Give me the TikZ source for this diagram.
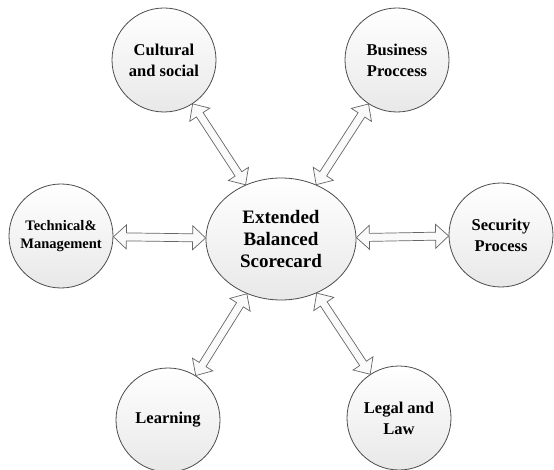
\documentclass[tikz,border=0pt]{standalone}
\usepackage{fontspec}
\setmainfont{Liberation Serif}
\usetikzlibrary{calc,shapes.geometric}
\tikzset{
  hub/.style={ellipse, draw=black!70, line width=0.8pt, top color=white, bottom color=black!9,
    minimum width=150pt, minimum height=122pt, inner sep=0pt, align=center,
    font=\fontsize{19}{22}\selectfont\bfseries},
  spoke/.style={circle, draw=black!70, line width=0.8pt, top color=white, bottom color=black!9,
    minimum size=104pt, inner sep=0pt, align=center,
    font=\fontsize{16.5}{21}\selectfont\bfseries},
  blk/.style={draw=black!60, line width=0.7pt, fill=black!2, line join=miter}
}
\newcommand{\dblblk}[2]{%
  \path (#1) -- (#2) coordinate[pos=0] (ta) coordinate[pos=1] (tb);
  \coordinate (ha) at ($(ta)!13pt!(tb)$);
  \coordinate (hb) at ($(tb)!13pt!(ta)$);
  \draw[blk] (ta) -- ($(ha)!12pt!90:(tb)$) -- ($(ha)!4pt!90:(tb)$) -- ($(hb)!4pt!-90:(ta)$)
    -- ($(hb)!12pt!-90:(ta)$) -- (tb) -- ($(hb)!12pt!90:(ta)$) -- ($(hb)!4pt!90:(ta)$)
    -- ($(ha)!4pt!-90:(tb)$) -- ($(ha)!12pt!-90:(tb)$) -- cycle;
}
\begin{document}
\begin{tikzpicture}[x=1pt,y=-1pt]
\useasboundingbox (0,0) rectangle (554,470);
\node[hub] (E) at (281,239) {Extended\\Balanced\\Scorecard};
\node[spoke] (cult) at (164,60) {Cultural\\and social};
\node[spoke] (bus) at (397,60) {Business\\Proccess};
\node[spoke, font=\fontsize{14.5}{17.5}\selectfont\bfseries] (tech) at (61,236) {Technical\&\\Management};
\node[spoke] (sec) at (501,235) {Security\\Process};
\node[spoke] (learn) at (168,420) {Learning};
\node[spoke] (legal) at (399,418) {Legal and\\Law};
\dblblk{E}{cult}
\dblblk{E}{bus}
\dblblk{E}{tech}
\dblblk{E}{sec}
\dblblk{E}{learn}
\dblblk{E}{legal}
\end{tikzpicture}
\end{document}
